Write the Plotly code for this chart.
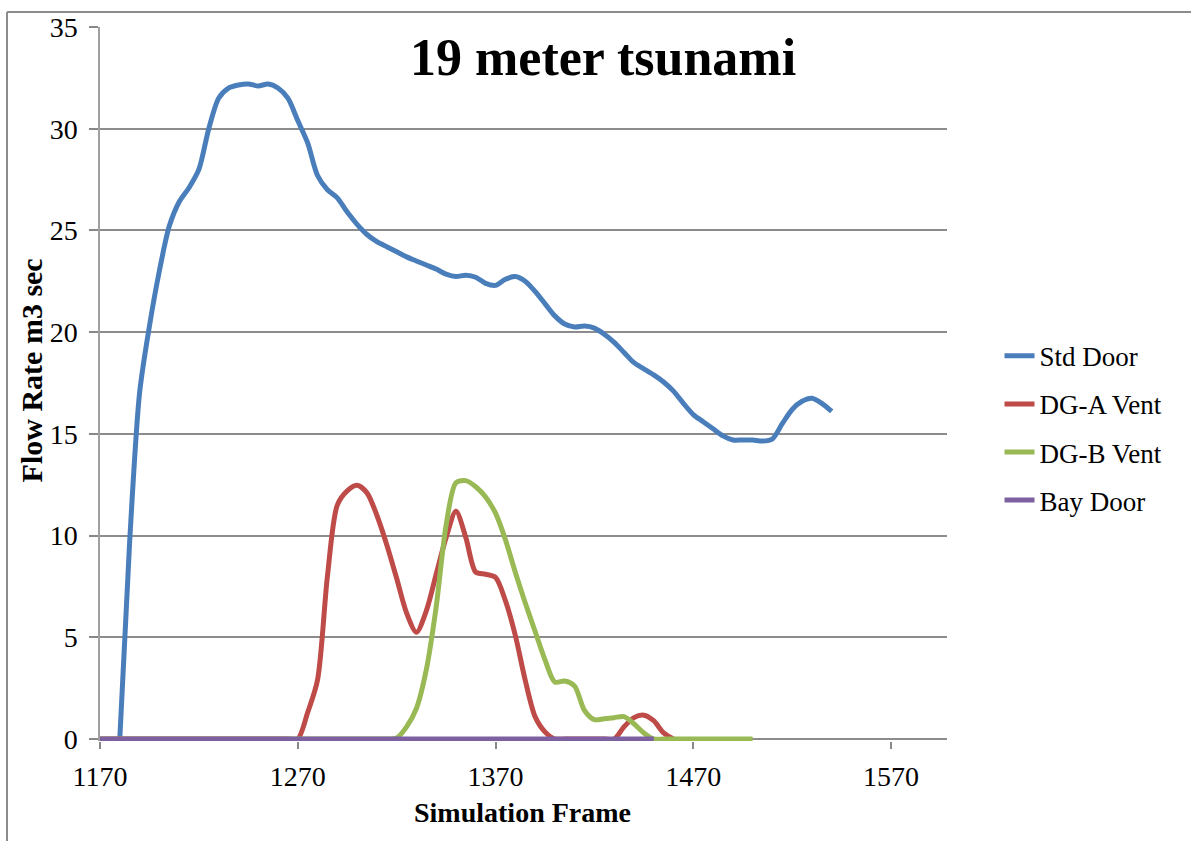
import plotly.graph_objects as go

frames = list(range(1180, 1545, 5))

std_door = [0, 9.7, 17.0, 20.3, 23.0, 25.2, 26.4, 27.1,
            28.0, 30.0, 31.5, 32.0, 32.15, 32.2, 32.1, 32.2, 32.0, 31.5,
            30.4, 29.3, 27.7, 27.0, 26.6, 25.9, 25.3, 24.8, 24.45, 24.2,
            23.95, 23.7, 23.5, 23.3, 23.1, 22.85, 22.73, 22.8, 22.7, 22.4,
            22.3, 22.6, 22.73, 22.5, 22.0, 21.4, 20.8, 20.4, 20.25, 20.3,
            20.2, 19.9, 19.5, 19.0, 18.5, 18.2, 17.9, 17.55, 17.1, 16.5,
            15.95, 15.6, 15.25, 14.9, 14.7, 14.7, 14.7, 14.65, 14.75, 15.5,
            16.2, 16.6, 16.75, 16.5, 16.1]

dga_frames = list(range(1170, 1465, 5))
dga_vent = [0] * 20 + [0, 1.3, 2.9, 8.0, 11.5, 12.2, 12.47, 12.1, 11.0, 9.55,
                       7.9, 6.2, 5.25, 6.3, 8.1, 9.9, 11.2, 9.9, 8.2, 8.1,
                       7.95, 6.8, 5.1, 2.9, 1.1, 0.35, 0, 0, 0, 0,
                       0, 0, 0, 0.6, 1.05, 1.17, 0.9, 0.3, 0]

dgb_frames = list(range(1170, 1505, 5))
dgb_vent = [0] * 30 + [0.05, 0.6, 1.5, 3.4, 6.5, 10.5, 12.6, 12.7, 12.4, 11.9,
                       11.1, 9.8, 8.2, 6.7, 5.3, 3.9, 2.8, 2.85, 2.6, 1.4,
                       0.95, 1.0, 1.05, 1.1, 0.75, 0.3, 0, 0, 0, 0,
                       0, 0, 0, 0, 0, 0, 0]

bay_frames = list(range(1170, 1455, 5))
bay_door = [0] * len(bay_frames)

series = [
    ("Std Door", frames, std_door, "#4A7EBB"),
    ("DG-A Vent", dga_frames, dga_vent, "#BE4B48"),
    ("DG-B Vent", dgb_frames, dgb_vent, "#98B954"),
    ("Bay Door", bay_frames, bay_door, "#7D60A0"),
]

x_ticks = [1170, 1270, 1370, 1470, 1570]
y_ticks = [0, 5, 10, 15, 20, 25, 30, 35]

FONT = "Liberation Serif"
fig = go.Figure()
for name, xs, ys, color in series:
    fig.add_trace(go.Scatter(
        x=xs, y=ys, name=name, mode="lines", legendgroup=name,
        line=dict(color=color, width=5, shape="spline", smoothing=0.8),
    ))

fig.update_layout(
    width=1191, height=841,
    margin=dict(l=100, r=244, t=22, b=100),
    paper_bgcolor="white", plot_bgcolor="white",
    font=dict(family=FONT, size=24, color="black"),
    showlegend=True,
    legend=dict(x=1.062, y=0.438, xanchor="left", yanchor="middle",
                font=dict(family=FONT, size=27, color="black"),
                tracegroupgap=10, traceorder="grouped",
                bgcolor="rgba(0,0,0,0)"),
    xaxis=dict(range=[1170, 1598.3], tickvals=x_ticks,
               ticktext=[str(v) for v in x_ticks],
               showgrid=False, showline=False, zeroline=False,
               ticks="outside", ticklen=7, tickcolor="#888888", tickwidth=1.5,
               tickfont=dict(family=FONT, size=28), ticklabelstandoff=3),
    yaxis=dict(range=[-0.0976, 35], tickvals=y_ticks,
               showgrid=True, gridcolor="#8c8c8c", gridwidth=1.5,
               showline=True, linecolor="#a0a0a0", linewidth=1.5,
               zeroline=True, zerolinecolor="#8c8c8c", zerolinewidth=1.5,
               ticks="outside", ticklen=9, tickcolor="#888888", tickwidth=1.5,
               tickfont=dict(family=FONT, size=28), ticklabelstandoff=6),
    annotations=[
        dict(text="<b>19 meter tsunami</b>", x=0.594, y=0.957, xref="paper", yref="paper",
             showarrow=False, font=dict(family=FONT, size=52, color="black"),
             xanchor="center", yanchor="middle"),
        dict(text="<b>Simulation Frame</b>", x=0.4994, y=-0.100, xref="paper", yref="paper",
             showarrow=False, font=dict(family=FONT, size=28, color="black"),
             xanchor="center", yanchor="middle"),
        dict(text="<b>Flow Rate m3 sec</b>", x=-0.0815, y=0.519, xref="paper", yref="paper",
             showarrow=False, textangle=-90, font=dict(family=FONT, size=30, color="black"),
             xanchor="center", yanchor="middle"),
    ],
    shapes=[
        dict(type="line", xref="paper", yref="paper", x0=-0.1098, x1=1.5, y0=1.0209, y1=1.0209,
             line=dict(color="#8c8c8c", width=2)),
        dict(type="line", xref="paper", yref="paper", x0=-0.1098, x1=-0.1098, y0=1.0209, y1=-0.3,
             line=dict(color="#8c8c8c", width=2)),
    ],
)

fig.write_html("out.html")
